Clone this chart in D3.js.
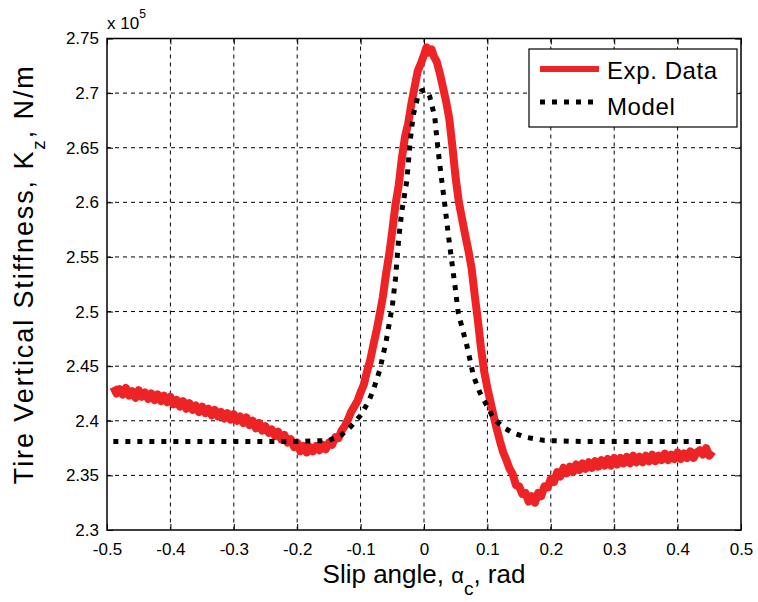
<!DOCTYPE html>
<html>
<head>
<meta charset="utf-8">
<script src="https://d3js.org/d3.v7.min.js"></script>
<style>
  body { margin: 0; background: #fff; }
  text { font-family: "Liberation Sans", Arial, sans-serif; fill: #000; }
</style>
</head>
<body>
<div id="chart"></div>
<script>
// experimental data (slip angle rad, stiffness x1e5 N/m)
var expData = [
  [-0.490, 2.431], [-0.485, 2.425], [-0.480, 2.429], [-0.475, 2.424], [-0.470, 2.430], [-0.465, 2.423],
  [-0.460, 2.427], [-0.455, 2.421], [-0.450, 2.428], [-0.445, 2.422], [-0.440, 2.426], [-0.435, 2.420],
  [-0.430, 2.425], [-0.425, 2.419], [-0.420, 2.424], [-0.415, 2.418], [-0.410, 2.423], [-0.405, 2.417],
  [-0.400, 2.422], [-0.395, 2.415], [-0.390, 2.419], [-0.385, 2.413], [-0.380, 2.418], [-0.375, 2.411],
  [-0.370, 2.416], [-0.365, 2.410], [-0.360, 2.414], [-0.355, 2.408], [-0.350, 2.413], [-0.345, 2.407],
  [-0.340, 2.411], [-0.335, 2.405], [-0.330, 2.410], [-0.325, 2.404], [-0.320, 2.408], [-0.315, 2.402],
  [-0.310, 2.407], [-0.305, 2.401], [-0.300, 2.406], [-0.295, 2.400], [-0.290, 2.404], [-0.285, 2.398],
  [-0.280, 2.403], [-0.275, 2.396], [-0.270, 2.400], [-0.265, 2.393], [-0.260, 2.398], [-0.255, 2.391],
  [-0.250, 2.395], [-0.245, 2.389], [-0.240, 2.392], [-0.235, 2.386], [-0.230, 2.390], [-0.225, 2.383],
  [-0.220, 2.387], [-0.215, 2.380], [-0.210, 2.383], [-0.205, 2.376], [-0.200, 2.380], [-0.195, 2.372],
  [-0.190, 2.377], [-0.185, 2.371], [-0.180, 2.376], [-0.175, 2.372], [-0.170, 2.377], [-0.165, 2.373],
  [-0.160, 2.378], [-0.155, 2.374], [-0.150, 2.380], [-0.145, 2.378], [-0.140, 2.385], [-0.135, 2.384],
  [-0.130, 2.391], [-0.125, 2.395], [-0.120, 2.401], [-0.115, 2.408], [-0.110, 2.413], [-0.105, 2.418],
  [-0.100, 2.426], [-0.095, 2.433], [-0.090, 2.445], [-0.085, 2.455], [-0.080, 2.469], [-0.075, 2.482],
  [-0.070, 2.497], [-0.065, 2.513], [-0.060, 2.534], [-0.055, 2.552], [-0.050, 2.574], [-0.045, 2.598],
  [-0.040, 2.615], [-0.035, 2.640], [-0.030, 2.660], [-0.025, 2.672], [-0.020, 2.690], [-0.015, 2.705],
  [-0.010, 2.720], [-0.005, 2.727], [0.000, 2.735], [0.004, 2.742], [0.008, 2.737], [0.012, 2.740],
  [0.016, 2.733], [0.020, 2.729], [0.025, 2.718], [0.030, 2.705], [0.035, 2.692], [0.040, 2.676],
  [0.045, 2.650], [0.050, 2.622], [0.055, 2.600], [0.060, 2.585], [0.065, 2.570], [0.070, 2.556],
  [0.075, 2.540], [0.080, 2.515], [0.085, 2.492], [0.090, 2.466], [0.095, 2.445], [0.100, 2.430],
  [0.105, 2.417], [0.110, 2.404], [0.115, 2.392], [0.120, 2.381], [0.125, 2.371], [0.130, 2.364],
  [0.135, 2.356], [0.140, 2.351], [0.145, 2.341], [0.150, 2.340], [0.155, 2.333], [0.160, 2.334],
  [0.165, 2.326], [0.170, 2.331], [0.175, 2.325], [0.180, 2.334], [0.185, 2.331], [0.190, 2.340],
  [0.195, 2.339], [0.200, 2.347], [0.205, 2.344], [0.210, 2.353], [0.215, 2.349], [0.220, 2.357],
  [0.225, 2.352], [0.230, 2.358], [0.235, 2.353], [0.240, 2.360], [0.245, 2.355], [0.250, 2.361],
  [0.255, 2.356], [0.260, 2.362], [0.265, 2.357], [0.270, 2.363], [0.275, 2.358], [0.280, 2.364],
  [0.285, 2.359], [0.290, 2.365], [0.295, 2.359], [0.300, 2.366], [0.305, 2.360], [0.310, 2.366],
  [0.315, 2.361], [0.320, 2.367], [0.325, 2.361], [0.330, 2.368], [0.335, 2.362], [0.340, 2.367],
  [0.345, 2.362], [0.350, 2.368], [0.355, 2.363], [0.360, 2.369], [0.365, 2.363], [0.370, 2.368],
  [0.375, 2.364], [0.380, 2.370], [0.385, 2.364], [0.390, 2.369], [0.395, 2.365], [0.400, 2.371],
  [0.405, 2.365], [0.410, 2.370], [0.415, 2.366], [0.420, 2.372], [0.425, 2.366], [0.430, 2.371],
  [0.435, 2.373], [0.440, 2.369], [0.445, 2.375], [0.450, 2.368], [0.455, 2.372]
];

// model curve
var modelData = [
  [-0.490, 2.381], [-0.300, 2.381], [-0.200, 2.381], [-0.150, 2.382], [-0.130, 2.387], [-0.115, 2.395],
  [-0.100, 2.405], [-0.088, 2.417], [-0.080, 2.428], [-0.070, 2.446], [-0.060, 2.472], [-0.050, 2.505],
  [-0.045, 2.530], [-0.040, 2.566], [-0.035, 2.592], [-0.027, 2.620], [-0.022, 2.655], [-0.017, 2.680],
  [-0.010, 2.696], [-0.004, 2.702], [0.003, 2.703], [0.009, 2.697], [0.017, 2.678], [0.020, 2.660],
  [0.024, 2.639], [0.028, 2.620], [0.033, 2.597], [0.038, 2.572], [0.044, 2.545], [0.049, 2.523],
  [0.054, 2.499], [0.062, 2.481], [0.068, 2.468], [0.078, 2.441], [0.088, 2.426], [0.100, 2.413],
  [0.110, 2.402], [0.125, 2.394], [0.140, 2.389], [0.160, 2.385], [0.190, 2.382], [0.250, 2.381],
  [0.446, 2.381]
];

var xTicks = [-0.5, -0.4, -0.3, -0.2, -0.1, 0, 0.1, 0.2, 0.3, 0.4, 0.5];
var yTicks = [2.3, 2.35, 2.4, 2.45, 2.5, 2.55, 2.6, 2.65, 2.7, 2.75];
var legendLabels = ["Exp. Data", "Model"];

var margin = { top: 38.5, right: 17, bottom: 72, left: 107 },
    width = 758 - margin.left - margin.right,
    height = 602 - margin.top - margin.bottom;

var svg = d3.select("#chart")
    .append("svg")
    .attr("width", 758)
    .attr("height", 602)
    .append("g")
    .attr("transform", "translate(" + margin.left + "," + margin.top + ")");

var x = d3.scaleLinear().domain([-0.5, 0.5]).range([0, width]);
var y = d3.scaleLinear().domain([2.3, 2.75]).range([height, 0]);

var fmt = function (v) { return String(+v.toFixed(2)); };

// grid
svg.append("g")
    .selectAll("line")
    .data(xTicks.slice(1, -1))
    .enter().append("line")
    .attr("x1", function (d) { return x(d) }).attr("x2", function (d) { return x(d) })
    .attr("y1", 0).attr("y2", height)
    .attr("stroke", "#000").attr("stroke-width", 1).attr("stroke-dasharray", "4,4");
svg.append("g")
    .selectAll("line")
    .data(yTicks.slice(1, -1))
    .enter().append("line")
    .attr("y1", function (d) { return y(d) }).attr("y2", function (d) { return y(d) })
    .attr("x1", 0).attr("x2", width)
    .attr("stroke", "#000").attr("stroke-width", 1).attr("stroke-dasharray", "4,4");

// axes, ticks inward like matlab
function styleAxis(g) {
    g.select(".domain").remove();
    g.selectAll("text").style("font-size", "17px").style("font-family", "Liberation Sans, Arial, sans-serif");
}
svg.append("g")
    .attr("transform", "translate(0," + height + ")")
    .call(d3.axisBottom(x).tickValues(xTicks).tickFormat(fmt).tickSizeInner(-6).tickPadding(13))
    .call(styleAxis);
svg.append("g")
    .call(d3.axisTop(x).tickValues(xTicks).tickFormat("").tickSizeInner(-6))
    .call(styleAxis);
svg.append("g")
    .call(d3.axisLeft(y).tickValues(yTicks).tickFormat(fmt).tickSizeInner(-6).tickPadding(8))
    .call(styleAxis);
svg.append("g")
    .attr("transform", "translate(" + width + ",0)")
    .call(d3.axisRight(y).tickValues(yTicks).tickFormat("").tickSizeInner(-6))
    .call(styleAxis);

var line = d3.line()
    .x(function (d) { return x(d[0]) })
    .y(function (d) { return y(d[1]) });

svg.append("path")
    .datum(expData)
    .attr("fill", "none")
    .attr("stroke", "#ee2326")
    .attr("stroke-width", 8)
    .attr("stroke-linejoin", "round")
    .attr("d", line);

svg.append("path")
    .datum(modelData)
    .attr("fill", "none")
    .attr("stroke", "#000")
    .attr("stroke-width", 5)
    .attr("stroke-dasharray", "5,7")
    .attr("d", line);

// box
svg.append("rect")
    .attr("x", 0).attr("y", 0).attr("width", width).attr("height", height)
    .attr("fill", "none").attr("stroke", "#000").attr("stroke-width", 1.5);

// legend
var leg = svg.append("g").attr("transform", "translate(" + (width - 212) + ",10.5)");
leg.append("rect")
    .attr("width", 208).attr("height", 78)
    .attr("fill", "#fff").attr("stroke", "#000").attr("stroke-width", 1.2);
leg.append("line")
    .attr("x1", 11).attr("x2", 70).attr("y1", 20).attr("y2", 20)
    .attr("stroke", "#ee2326").attr("stroke-width", 6);
leg.append("line")
    .attr("x1", 11).attr("x2", 70).attr("y1", 53).attr("y2", 53)
    .attr("stroke", "#000").attr("stroke-width", 5).attr("stroke-dasharray", "5,7");
leg.selectAll("text.lab")
    .data(legendLabels)
    .enter().append("text")
    .attr("class", "lab")
    .attr("x", 78)
    .attr("y", function (d, i) { return 30 + i * 36 })
    .style("font-size", "24px")
    .style("letter-spacing", "0.6px")
    .text(function (d) { return d });

// exponent label
var ex = svg.append("text")
    .attr("x", 0).attr("y", -9.5)
    .style("font-size", "17px")
    .text("x 10");
ex.append("tspan").attr("dy", -11).style("font-size", "12px").text("5");

// axis titles
var xt = svg.append("text")
    .attr("text-anchor", "middle")
    .attr("x", width / 2)
    .attr("y", height + 53)
    .style("font-size", "26px")
    .text("Slip angle, ");
xt.append("tspan").style("font-size", "22px").text("\u03b1");
xt.append("tspan").attr("dy", 12).style("font-size", "19px").text("c");
xt.append("tspan").attr("dy", -12).text(", rad");

var yt = svg.append("text")
    .attr("text-anchor", "middle")
    .attr("transform", "translate(" + (-74) + "," + (height / 2 - 10) + ") rotate(-90)")
    .style("font-size", "27px")
    .style("letter-spacing", "1.9px")
    .text("Tire Vertical Stiffness, K");
yt.append("tspan").attr("dy", 12).style("font-size", "19px").text("z");
yt.append("tspan").attr("dy", -12).text(", N/m");
</script>
</body>
</html>
